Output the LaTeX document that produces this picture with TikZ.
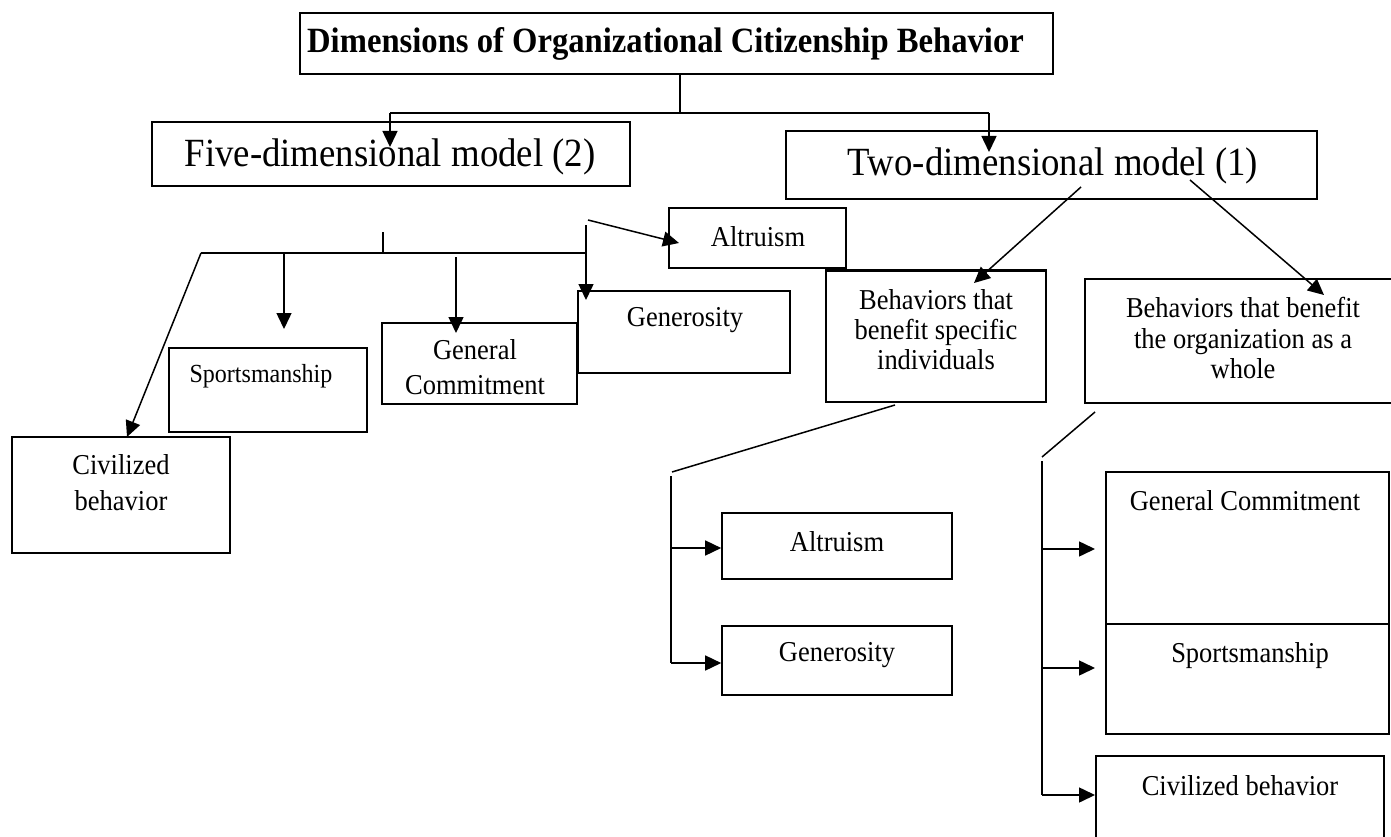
\documentclass[tikz,border=0pt]{standalone}
\usepackage{fontspec}
\setmainfont[FakeStretch=0.92]{Liberation Serif}
\usetikzlibrary{arrows.meta,fit}
\begin{document}
\begin{tikzpicture}[x=1pt,y=-1pt,
  box/.style={draw, line width=1.6pt, inner sep=0pt, fit={#1}},
  txt/.style={inner sep=0pt, align=center, font=\fontsize{28.8}{30.5}\selectfont},
  ln/.style={line width=1.5pt},
  arr/.style={ln, -{Triangle[length=16pt,width=15pt]}}]
\useasboundingbox (0,0) rectangle (1391,837);
\fill[white] (0,0) rectangle (1391,837);
% ---- title and models
\node (title) [box={(300,13) (1053,74)}] {};
\node (titlet) [txt, font=\fontsize{35.5}{38}\selectfont\bfseries] at (665.5,44) {Dimensions of Organizational Citizenship Behavior};
\node (five) [box={(152,122) (630,186)}] {};
\node (fivet) [txt, font=\fontsize{40}{42}\selectfont] at (390,157) {Five-dimensional model (2)};
\node (two) [box={(786,131) (1317,199)}] {};
\node (twot) [txt, font=\fontsize{40}{42}\selectfont] at (1053,166) {Two-dimensional model (1)};
% ---- five-dimensional boxes
\node (alt1) [box={(669,208) (846,268)}] {};
\node (alt1t) [txt] at (758,237) {Altruism};
\node (gen1) [box={(578,291) (790,373)}] {};
\node (gen1t) [txt] at (685,320) {Generosity};
\node (gc1) [box={(382,323) (577,404)}] {};
\node (gc1t) [txt, font=\fontsize{28.8}{35}\selectfont] at (475,367) {General\\Commitment};
\node (sp1) [box={(169,348) (367,432)}] {};
\node (sp1t) [txt, font=\fontsize{26.1}{28}\selectfont] at (261,376) {Sportsmanship};
\node (civ1) [box={(12,437) (230,553)}] {};
\node (civ1t) [txt, font=\fontsize{28.8}{36}\selectfont] at (121,483) {Civilized\\behavior};
% ---- two-dimensional boxes
\node (beh1) [box={(826,271) (1046,402)}] {};
\draw[line width=3pt] (beh1.north west) -- (beh1.north east);
\node (beh1t) [txt, font=\fontsize{28.8}{30}\selectfont] at (936,330) {Behaviors that\\benefit specific\\individuals};
\node (beh2) [box={(1085,279) (1401,403)}] {};
\node (beh2t) [txt, font=\fontsize{28.8}{30.5}\selectfont] at (1243,338) {Behaviors that benefit\\the organization as a\\whole};
\node (alt2) [box={(722,513) (952,579)}] {};
\node (alt2t) [txt] at (837,542) {Altruism};
\node (gen2) [box={(722,626) (952,695)}] {};
\node (gen2t) [txt] at (837,655) {Generosity};
\node (gc2) [box={(1106,472) (1389,624)}] {};
\node (gc2t) [txt] at (1245,501) {General Commitment};
\node (sp2) [box={(1106,624) (1389,734)}] {};
\node (sp2t) [txt] at (1250,656) {Sportsmanship};
\node (civ2) [box={(1096,756) (1384,860)}] {};
\node (civ2t) [txt] at (1240,786) {Civilized behavior};
% ---- connectors: title to models
\coordinate (j0) at (680,113);
\coordinate (jL) at (390,113);
\coordinate (jR) at (989,113);
\coordinate (fiveTip) at (390,147);
\coordinate (twoTip) at (989,152);
\draw[ln] (title.south -| j0) -- (j0);
\draw[ln] (jL) -- (jR);
\draw[arr] (jL) -- (fiveTip);
\draw[arr] (jR) -- (twoTip);
% ---- five-dimensional tree
\coordinate (tk1) at (383,232);
\coordinate (tk2) at (383,253);
\coordinate (hL) at (201,253);
\coordinate (hR) at (586,253);
\coordinate (vTop) at (586,225);
\coordinate (genTip) at (586,300);
\coordinate (altStart) at (588,220);
\coordinate (altTip) at (679,243);
\coordinate (spS) at (284,253);
\coordinate (spTip) at (284,329);
\coordinate (gcS) at (456,257);
\coordinate (gcTip) at (456,333);
\coordinate (civTip) at (127,437);
\draw[ln] (tk1) -- (tk2);
\draw[ln] (hL) -- (hR);
\draw[arr] (hL) -- (civTip);
\draw[arr] (spS) -- (spTip);
\draw[arr] (gcS) -- (gcTip);
\draw[arr] (vTop) -- (genTip);
\draw[arr] (altStart) -- (altTip);
% ---- two-dimensional tree
\coordinate (t1s) at (1081,187);
\coordinate (t1e) at (974,283);
\coordinate (t2s) at (1190,180);
\coordinate (t2e) at (1324,295);
\draw[arr] (t1s) -- (t1e);
\draw[arr] (t2s) -- (t2e);
\coordinate (b1a) at (895,405);
\coordinate (b1b) at (672,472);
\coordinate (b1v1) at (671,476);
\coordinate (b1v2) at (671,663);
\coordinate (b1m) at (671,548);
\draw[ln] (b1a) -- (b1b);
\draw[ln] (b1v1) -- (b1v2);
\draw[arr] (b1m) -- (b1m -| alt2.west);
\draw[arr] (b1v2) -- (b1v2 -| gen2.west);
\coordinate (b2a) at (1095,412);
\coordinate (b2b) at (1042,457);
\coordinate (b2v1) at (1042,461);
\coordinate (b2v2) at (1042,795);
\coordinate (b2m1) at (1042,549);
\coordinate (b2m2) at (1042,668);
\coordinate (ax) at (1095,0);
\draw[ln] (b2a) -- (b2b);
\draw[ln] (b2v1) -- (b2v2);
\draw[arr] (b2m1) -- (b2m1 -| ax);
\draw[arr] (b2m2) -- (b2m2 -| ax);
\draw[arr] (b2v2) -- (b2v2 -| ax);
\end{tikzpicture}
\end{document}
